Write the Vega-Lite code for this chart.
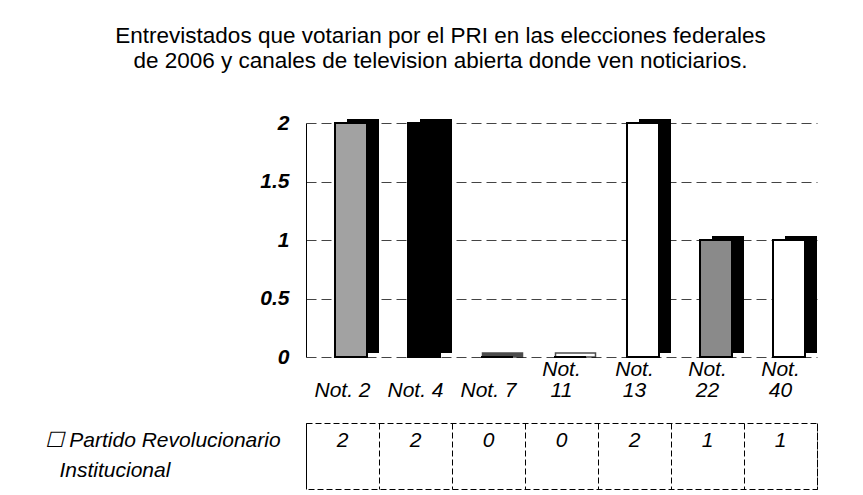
{
  "$schema": "https://vega.github.io/schema/vega-lite/v6.json",
  "background": "white",
  "padding": {"left": 43, "top": 24, "right": 10, "bottom": 5},
  "title": {
    "text": ["Entrevistados que votarian por el PRI en las elecciones federales", "de 2006 y canales de television abierta donde ven noticiarios."],
    "font": "Liberation Sans",
    "fontSize": 22.5,
    "fontWeight": "normal",
    "color": "black",
    "lineHeight": 25,
    "anchor": "middle",
    "offset": 40,
    "dx": 10
  },
  "data": {
    "values": [
      {"canal": "Not. 2", "serie": "Partido Revolucionario Institucional", "votos": 2},
      {"canal": "Not. 4", "serie": "Partido Revolucionario Institucional", "votos": 2},
      {"canal": "Not. 7", "serie": "Partido Revolucionario Institucional", "votos": 0},
      {"canal": "Not. 11", "serie": "Partido Revolucionario Institucional", "votos": 0},
      {"canal": "Not. 13", "serie": "Partido Revolucionario Institucional", "votos": 2},
      {"canal": "Not. 22", "serie": "Partido Revolucionario Institucional", "votos": 1},
      {"canal": "Not. 40", "serie": "Partido Revolucionario Institucional", "votos": 1}
    ]
  },
  "spacing": 22,
  "align": "all",
  "resolve": {"scale": {"x": "shared"}},
  "config": {"view": {"stroke": null}, "font": "Liberation Sans"},
  "vconcat": [
    {
      "width": 511,
      "height": 234,
      "encoding": {
        "x": {
          "field": "canal", "type": "nominal", "sort": null,
          "scale": {"paddingInner": 0, "paddingOuter": 0},
          "axis": {
            "orient": "bottom", "title": null, "ticks": false, "domain": false, "grid": false, "labelAngle": 0,
            "labelFontSize": 21, "labelFontStyle": "italic", "labelColor": "black",
            "labelBaseline": "top", "labelPadding": 1, "labelLineHeight": 21,
            "labelExpr": "length(datum.value) > 6 ? split(datum.value, ' ') : ['', datum.value]"
          }
        }
      },
      "layer": [
        {
          "mark": {"type": "bar", "width": 32, "xOffset": 20.5, "yOffset": -4, "y2Offset": -4, "color": "black"},
          "encoding": {
            "y": {
              "field": "votos", "type": "quantitative",
              "scale": {"domain": [0, 2], "nice": false},
              "axis": {
                "values": [0, 0.5, 1, 1.5, 2], "format": "~g", "title": null,
                "labelFont": "Liberation Sans", "labelFontSize": 21, "labelFontWeight": "bold", "labelFontStyle": "italic",
                "labelColor": "black", "labelPadding": 17, "ticks": false,
                "domainColor": "black", "domainWidth": 1,
                "gridColor": "#444444", "gridDash": [10, 5], "gridWidth": 1
              }
            }
          }
        },
        {
          "transform": [{"filter": "datum.votos == 0"}],
          "mark": {"type": "tick", "size": 40, "thickness": 4, "xOffset": 14, "yOffset": -2, "stroke": "black", "strokeWidth": 1.5},
          "encoding": {
            "y": {"field": "votos", "type": "quantitative"},
            "fill": {"field": "canal", "type": "nominal", "scale": {"domain": ["Not. 2", "Not. 4", "Not. 7", "Not. 11", "Not. 13", "Not. 22", "Not. 40"], "range": ["#a2a2a2", "#000000", "#000000", "#ffffff", "#ffffff", "#8a8a8a", "#ffffff"]}, "legend": null}
          }
        },
        {
          "mark": {"type": "bar", "width": 32, "xOffset": 8.5, "stroke": "black", "strokeWidth": 2},
          "encoding": {
            "y": {"field": "votos", "type": "quantitative"},
            "fill": {"field": "canal", "type": "nominal", "legend": null}
          }
        }
      ]
    },
    {
      "width": 511,
      "height": 66,
      "view": {"stroke": "black", "strokeDash": [6, 3], "strokeWidth": 1},
      "mark": {"type": "text", "fontSize": 21, "fontStyle": "italic", "dy": -15, "color": "black"},
      "encoding": {
        "x": {
          "field": "canal", "type": "nominal", "sort": null,
          "axis": {
            "orient": "top", "title": null, "ticks": false, "domain": false, "labels": false,
            "grid": true, "tickBand": "extent", "gridColor": "black", "gridDash": [6, 3], "gridWidth": 1
          }
        },
        "y": {
          "field": "serie", "type": "nominal",
          "axis": {
            "title": null, "ticks": false, "domain": false, "grid": false,
            "labelAlign": "left", "labelPadding": 262, "labelLimit": 400, "labelOffset": -16,
            "labelFontSize": 21, "labelFontStyle": "italic", "labelColor": "black", "labelLineHeight": 30,
            "labelExpr": "['☐ Partido Revolucionario', '⠀Institucional']"
          }
        },
        "text": {"field": "votos", "type": "quantitative"}
      }
    }
  ]
}
